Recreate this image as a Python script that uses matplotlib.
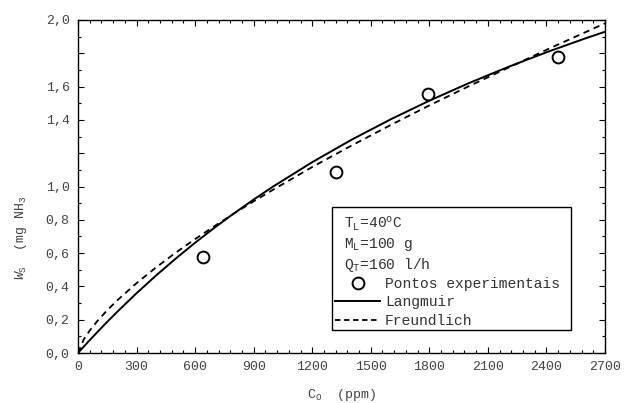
import matplotlib
matplotlib.use("Agg")
import matplotlib.pyplot as plt
from matplotlib.lines import Line2D
from matplotlib.patches import Rectangle
from matplotlib.ticker import FixedLocator, FixedFormatter, MultipleLocator

plt.rcParams['font.family'] = ['Liberation Mono', 'DejaVu Sans Mono']
plt.rcParams['mathtext.fontset'] = 'custom'
plt.rcParams['mathtext.rm'] = 'Liberation Mono'
plt.rcParams['mathtext.it'] = 'Liberation Mono:italic'

# experimental points
exp_x = [639, 1322, 1795, 2461]
exp_y = [0.575, 1.085, 1.556, 1.78]

# model curves
curve_x = [0, 30, 60, 100, 150, 200, 300, 400, 500, 600, 700, 800, 900, 1000,
           1200, 1400, 1600, 1800, 2000, 2200, 2400, 2600, 2700]
langmuir_y = [0.0, 0.0389, 0.0770, 0.1268, 0.1874, 0.2463, 0.3590, 0.4656,
              0.5665, 0.6622, 0.7531, 0.8394, 0.9216, 1.000, 1.1462, 1.2798,
              1.4024, 1.5153, 1.6196, 1.7162, 1.8061, 1.8898, 1.9295]
freundlich_y = [0.0, 0.0826, 0.1347, 0.1931, 0.2572, 0.3151, 0.4196, 0.5139,
                0.602, 0.684, 0.763, 0.8385, 0.911, 0.981, 1.117, 1.245,
                1.368, 1.487, 1.601, 1.711, 1.821, 1.927, 1.98]

xticks = [0, 300, 600, 900, 1200, 1500, 1800, 2100, 2400, 2700]
xtick_labels = ['0', '300', '600', '900', '1200', '1500', '1800', '2100', '2400', '2700']
yticks = [0.0, 0.2, 0.4, 0.6, 0.8, 1.0, 1.2, 1.4, 1.6, 1.8, 2.0]
ytick_labels = ['0,0', '0,2', '0,4', '0,6', '0,8', '1,0', '', '1,4', '1,6', '', '2,0']

legend_params = ['T$_\\mathrm{L}$=40$^\\mathrm{o}$C', 'M$_\\mathrm{L}$=100 g', 'Q$_\\mathrm{T}$=160 l/h']
series_names = ['Pontos experimentais', 'Langmuir', 'Freundlich']

fig = plt.figure(figsize=(6.26, 4.03), dpi=100)
ax = fig.add_axes([78/626, 50/403, 527/626, 333/403])

ax.plot(curve_x, langmuir_y, color='black', lw=1.4, solid_capstyle='butt')
ax.plot(curve_x, freundlich_y, color='black', lw=1.3, linestyle=(0, (3.5, 2.6)))
ax.plot(exp_x, exp_y, linestyle='none', marker='o', markersize=8.5,
        markerfacecolor='white', markeredgecolor='black', markeredgewidth=1.4)

ax.set_xlim(0, 2700)
ax.set_ylim(0, 2.0)
ax.xaxis.set_major_locator(FixedLocator(xticks))
ax.xaxis.set_major_formatter(FixedFormatter(xtick_labels))
ax.xaxis.set_minor_locator(MultipleLocator(60))
ax.yaxis.set_major_locator(FixedLocator(yticks))
ax.yaxis.set_major_formatter(FixedFormatter(ytick_labels))
ax.yaxis.set_minor_locator(MultipleLocator(0.1))

ax.tick_params(which='both', direction='in', top=True, right=True,
               labelsize=9.5, labelcolor='#444444', width=0.8)
ax.tick_params(which='major', length=4, pad=6)
ax.tick_params(which='minor', length=2.5)
for s in ax.spines.values():
    s.set_linewidth(1.0)

ax.set_xlabel('C$_\\mathrm{O}$  (ppm)', fontsize=9.5, color='#444444', labelpad=10)
ax.set_ylabel('$W_\\mathrm{S}$  (mg NH$_\\mathrm{3}$', fontsize=9.5, color='#444444')
ax.yaxis.set_label_coords(-0.093, 0.345)

# legend box
ax.add_patch(Rectangle((0.482, 0.069), 0.453, 0.369, transform=ax.transAxes,
                       facecolor='white', edgecolor='black', lw=1.0, zorder=5))
for i, t in enumerate(legend_params):
    ax.text(0.505, 0.387 - i * 0.061, t, transform=ax.transAxes, fontsize=10.5,
            va='center', ha='left', color='#333333', zorder=6)

handles = [
    Line2D([], [], linestyle='none', marker='o', markersize=8.5,
           markerfacecolor='white', markeredgecolor='black', markeredgewidth=1.4),
    Line2D([], [], color='black', lw=1.4),
    Line2D([], [], color='black', lw=1.3, linestyle=(0, (3, 2))),
]
leg = ax.legend(handles, series_names, loc='upper left',
                bbox_to_anchor=(0.488, 0.228), frameon=False, fontsize=10.5,
                handlelength=3.1, handletextpad=0.3, labelspacing=0.3,
                borderaxespad=0, borderpad=0, labelcolor='#333333')
leg.set_zorder(7)

fig.savefig('out.png', dpi=100)
